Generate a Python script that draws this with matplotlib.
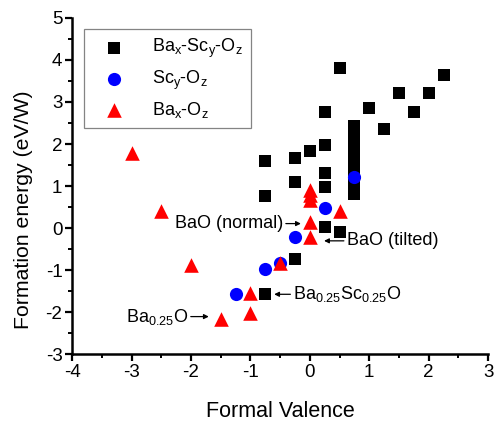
import matplotlib
matplotlib.use('Agg')
import matplotlib.pyplot as plt
from matplotlib.ticker import MultipleLocator

plt.rcParams['font.family'] = ['Liberation Sans', 'DejaVu Sans']
plt.rcParams['mathtext.fontset'] = 'custom'
plt.rcParams['mathtext.rm'] = 'Liberation Sans'
plt.rcParams['axes.unicode_minus'] = False

# Ba-Sc-O compounds (black squares)
basco_x = [0.5, 2.25, 1.5, 2.0, 0.25, 1.0, 1.75, 1.25,
           0.75, 0.75, 0.75, 0.75, 0.75, 0.75, 0.75, 0.75, 0.75,
           0.25, 0.0, -0.25, -0.75, -0.25, 0.25, 0.25, -0.75, 0.25, 0.5, -0.25, -0.75]
basco_y = [3.8, 3.65, 3.22, 3.22, 2.76, 2.85, 2.76, 2.36,
           2.42, 2.27, 2.12, 1.97, 1.82, 1.52, 1.32, 1.1, 0.82,
           1.97, 1.83, 1.67, 1.59, 1.1, 1.31, 0.98, 0.76, 0.04, -0.08, -0.73, -1.57]
# Sc-O compounds (blue circles)
sco_x = [0.75, 0.25, -0.25, -0.5, -0.75, -1.25]
sco_y = [1.21, 0.48, -0.2, -0.83, -0.97, -1.57]
# Ba-O compounds (red triangles)
bao_x = [-3.0, -2.5, -2.0, -0.5, -1.0, -1.5, -1.0, 0.0, 0.0, 0.0, 0.5, 0.0, 0.0]
bao_y = [1.79, 0.42, -0.87, -0.83, -1.53, -2.15, -2.02, 0.9, 0.78, 0.66, 0.4, 0.14, -0.2]

fig = plt.figure(figsize=(4.94, 4.24), dpi=100)
ax = fig.add_axes([0.146, 0.164, 0.842, 0.794])

ax.scatter(basco_x, basco_y, marker='s', s=72, color='black', linewidths=0,
           label=r'Ba$_\mathregular{x}$-Sc$_\mathregular{y}$-O$_\mathregular{z}$', zorder=3)
ax.scatter(sco_x, sco_y, marker='o', s=90, color='#0000ff', linewidths=0,
           label=r'Sc$_\mathregular{y}$-O$_\mathregular{z}$', zorder=4)
ax.scatter(bao_x, bao_y, marker='^', s=110, color='#ff0000', linewidths=0,
           label=r'Ba$_\mathregular{x}$-O$_\mathregular{z}$', zorder=5)

arrow = dict(arrowstyle='-|>', color='black', lw=0.9, mutation_scale=7, shrinkA=0, shrinkB=0)
ax.annotate('BaO (normal)', xy=(-0.15, 0.11), xytext=(-0.45, 0.11), fontsize=13,
            ha='right', va='center', arrowprops=arrow)
ax.annotate('BaO (tilted)', xy=(0.24, -0.3), xytext=(0.62, -0.3), fontsize=13,
            ha='left', va='center', arrowprops=arrow)
ax.annotate(r'Ba$_\mathregular{0.25}$Sc$_\mathregular{0.25}$O', xy=(-0.6, -1.57), xytext=(-0.28, -1.57),
            fontsize=13, ha='left', va='center', arrowprops=arrow)
ax.annotate(r'Ba$_\mathregular{0.25}$O', xy=(-1.7, -2.1), xytext=(-2.05, -2.1),
            fontsize=13, ha='right', va='center', arrowprops=arrow)

ax.set_xlim(-4, 3)
ax.set_ylim(-3, 5)
ax.xaxis.set_major_locator(MultipleLocator(1))
ax.xaxis.set_minor_locator(MultipleLocator(0.5))
ax.yaxis.set_major_locator(MultipleLocator(1))
ax.yaxis.set_minor_locator(MultipleLocator(0.5))
ax.tick_params(which='major', direction='out', length=5, width=1.6, labelsize=13.5, pad=2)
ax.tick_params(which='minor', direction='out', length=3, width=1.4)
for side in ['top', 'right']:
    ax.spines[side].set_visible(False)
for side in ['left', 'bottom']:
    ax.spines[side].set_linewidth(1.8)

ax.set_xlabel('Formal Valence', fontsize=15.5, labelpad=14)
ax.set_ylabel('Formation energy (eV/W)', fontsize=15.3)
ax.yaxis.set_label_coords(-0.094, 0.43)

leg = ax.legend(loc='upper left', bbox_to_anchor=(0.029, 0.967), fontsize=13, frameon=True,
                fancybox=False, edgecolor='#666666', handletextpad=0.9, borderpad=0.45,
                handlelength=2.4, labelspacing=0.45, scatterpoints=1, borderaxespad=0)
leg.get_frame().set_linewidth(0.9)

fig.savefig('out.png', dpi=100)
